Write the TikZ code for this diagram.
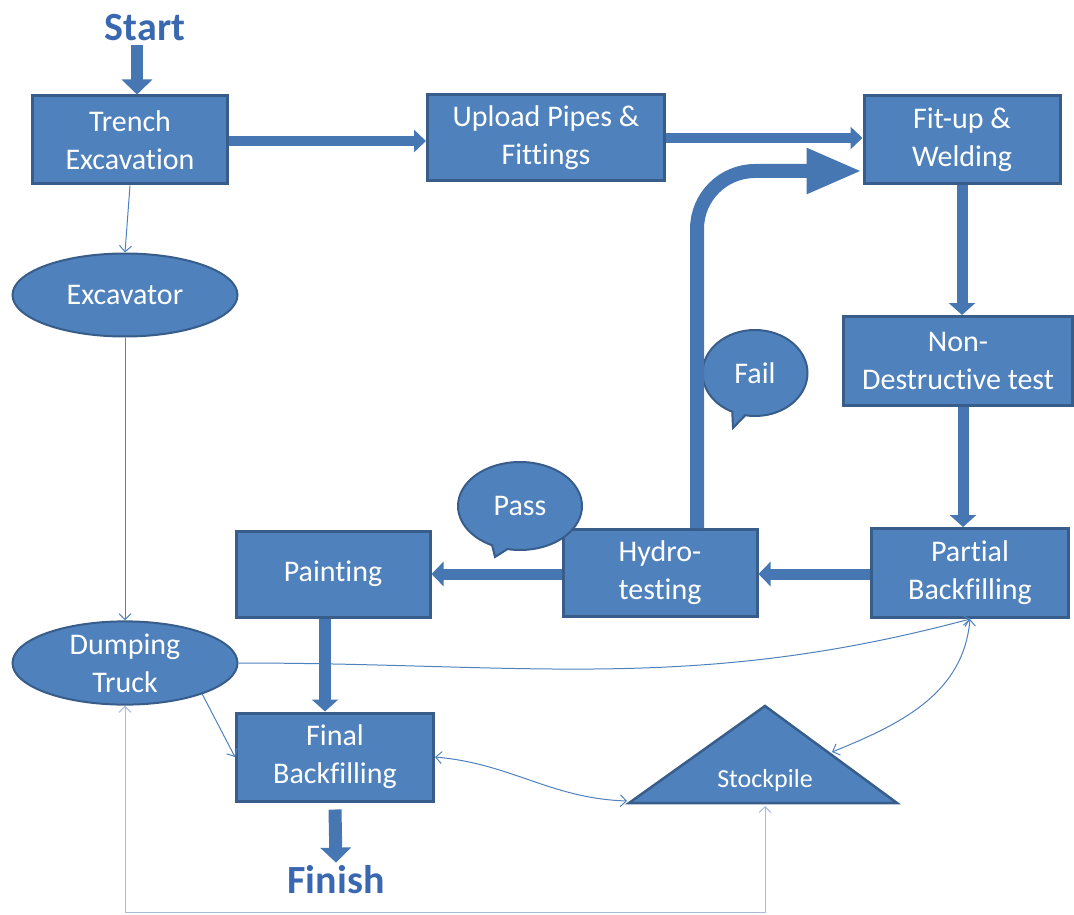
\documentclass[tikz,border=0pt]{standalone}
\usepackage{fontspec}
\setmainfont{Carlito}[Ligatures=NoCommon]
\usetikzlibrary{shapes.geometric,shapes.callouts,arrows.meta,calc}
\definecolor{fillb}{HTML}{4F81BD}
\definecolor{lineb}{HTML}{385D8A}
\definecolor{arrb}{HTML}{4777B3}
\definecolor{thinb}{HTML}{4F81BD}
\definecolor{paleb}{HTML}{A7BCDD}
\definecolor{titleb}{HTML}{3A68B0}
\begin{document}
\begin{tikzpicture}[x=1pt,y=1pt,
 box/.style 2 args={draw=lineb, line width=3pt, fill=fillb, text=white, align=center, inner sep=0pt,
   minimum width=#1, minimum height=#2, font=\fontsize{30}{38}\selectfont},
 ell/.style 2 args={ellipse, draw=lineb, line width=2pt, fill=fillb, text=white, align=center, inner sep=0pt,
   minimum width=#1, minimum height=#2, font=\fontsize{30}{38}\selectfont},
 bubble/.style={ellipse callout, draw=lineb, line width=2pt, fill=fillb, text=white, inner sep=0pt,
   font=\fontsize{30}{38}\selectfont},
 titletext/.style={font=\fontsize{40}{48}\selectfont\bfseries, text=titleb, inner sep=0pt},
 barrow/.style n args={3}{arrb, line width=#1, -{Triangle[length=#2,width=#3]}},
 thinarrow/.style={thinb, line width=1pt, -{Straight Barb[length=6pt,width=12pt]}},
 thinboth/.style={thinb, line width=1pt, {Straight Barb[length=6pt,width=12pt]}-{Straight Barb[length=6pt,width=12pt]}},
]
\useasboundingbox (0,0) rectangle (1074,-915);

% nodes
\node[titletext] (start) at (145,-28) {Start};
\node[titletext] (finish) at (336,-880) {Finish};
\node[box={195}{88}] (trench) at (130,-140) {Trench\\Excavation};
\node[box={237}{86}] (upload) at (546,-138) {Upload Pipes \&\\Fittings};
\node[box={196}{88}] (fit) at (962,-140) {Fit-up \&\\Welding};
\node[box={229}{89}] (ndt) at (958,-361) {Non-\\Destructive test};
\node[box={197}{89}] (partial) at (970,-573) {Partial\\Backfilling};
\node[box={194}{87}] (hydro) at (660,-573) {Hydro-\\testing};
\node[box={194}{86}] (paint) at (333,-574) {Painting};
\node[box={197}{88}] (final) at (335,-757) {Final\\Backfilling};
\node[ell={225}{83}] (exc) at (125,-295) {Excavator};
\node[ell={225}{81}] (dump) at (125,-663) {Dumping\\Truck};
\node[bubble, minimum width=124, minimum height=88, callout absolute pointer={(495,-557)}] (pass) at (520,-506) {Pass};
\node[bubble, minimum width=105, minimum height=86, callout absolute pointer={(733,-428)}] (fail) at (755,-373) {Fail};

% stockpile
\draw[draw=lineb, line width=2.5pt, fill=fillb, line join=miter] (765,-706) -- (897,-803) -- (629,-803) -- cycle;
\node[text=white, font=\fontsize{26}{30}\selectfont, inner sep=0pt] (stock) at (765,-781) {Stockpile};
\coordinate (stockR) at (832,-752);
\coordinate (stockL) at (627,-801);
\coordinate (stockB) at (765,-806);

% thin connectors
\draw[thinarrow] (trench.south) -- (exc.north);
\draw[thinarrow] (exc.south) -- (dump.north);
\draw[thinarrow] (dump.east) to[out=0,in=-165] (partial.south);
\draw[thinarrow] (dump.-22) -- (final.west);
\draw[thinboth] (partial.south) to[out=-95,in=22] (stockR);
\draw[thinboth] (final.east) to[out=-5,in=178] (stockL);
\draw[thinboth, paleb] (stockB) -- (765,-912) -| (dump.south);

% thick arrows
\draw[barrow={12pt}{15pt}{30pt}] ([xshift=-8pt,yshift=-4pt]start.south) -- ([xshift=7pt]trench.north);
\draw[barrow={10pt}{12pt}{22pt}] ([yshift=-1pt]trench.east) -- ([yshift=-1pt]trench.east -| upload.west);
\draw[barrow={10pt}{12pt}{22pt}] (upload.east) -- (upload.east -| fit.west);
\draw[barrow={11pt}{12pt}{26pt}] (fit.south) -- (fit.south |- ndt.north);
\draw[barrow={11pt}{12pt}{26pt}] ([xshift=5pt]ndt.south) -- ([xshift=5pt]ndt.south |- partial.north);
\draw[barrow={11pt}{12pt}{24pt}] ([yshift=-1pt]partial.west) -- ([yshift=-1pt]partial.west -| hydro.east);
\draw[barrow={11pt}{12pt}{24pt}] ([yshift=-1pt]hydro.west) -- ([yshift=-1pt]hydro.west -| paint.east);
\draw[barrow={12pt}{12pt}{26pt}] ([xshift=-8pt]paint.south) -- ([xshift=-8pt]paint.south |- final.north);
\draw[barrow={13pt}{15pt}{30pt}] ([yshift=-7pt]final.south) -- ([yshift=3pt]finish.north);
\draw[barrow={14pt}{56pt}{42pt}, rounded corners=58pt] ([xshift=37pt]hydro.north) |- ([yshift=-31pt]fit.west);
\end{tikzpicture}
\end{document}
